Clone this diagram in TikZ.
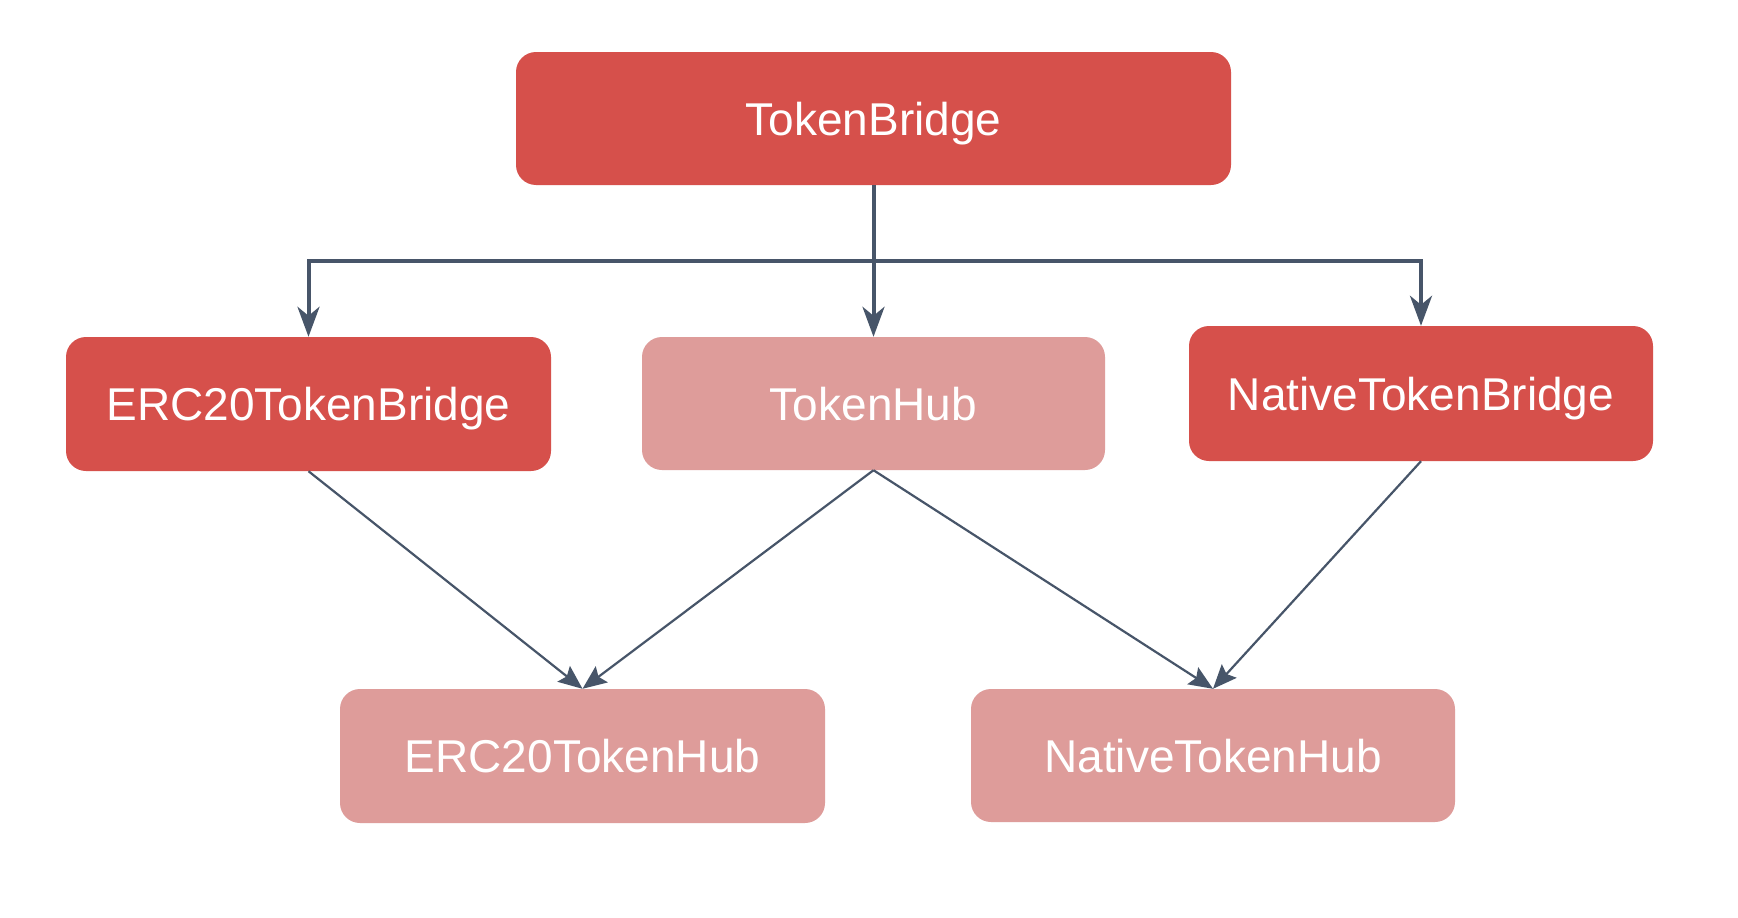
\documentclass[tikz,border=0pt]{standalone}
\usepackage{fontspec}
\setmainfont{Liberation Sans}
\usetikzlibrary{arrows.meta}
\definecolor{bridgered}{HTML}{D6504B}
\definecolor{hubpink}{HTML}{DE9C9A}
\definecolor{linkgray}{HTML}{475569}
\tikzset{
  box/.style={draw=none, rounded corners=20pt, text=white, font=\fontsize{46}{52}\selectfont, inner sep=0pt, text height=33pt, text depth=0pt},
  bridgebox/.style={box, fill=bridgered},
  hubbox/.style={box, fill=hubpink},
  thicklink/.style={draw=linkgray, line width=4pt, -{Stealth[length=30pt, width=22pt, inset=9pt]}},
  thinlink/.style={draw=linkgray, line width=2.2pt, -{Stealth[length=24pt, width=20pt, inset=4pt]}}
}
\begin{document}
\begin{tikzpicture}[x=1pt,y=-1pt]
\useasboundingbox (0,0) rectangle (1738,918);
\fill[white] (0,0) rectangle (1738,918);
\node[bridgebox, minimum width=715pt, minimum height=133pt] (tb) at (873.5,118.5) {TokenBridge};
\node[bridgebox, minimum width=485pt, minimum height=134pt] (etb) at (308.5,404) {ERC20TokenBridge};
\node[hubbox, minimum width=463pt, minimum height=133pt] (th) at (873.5,403.5) {TokenHub};
\node[bridgebox, minimum width=464pt, minimum height=135pt] (ntb) at (1421,393.5) {NativeTokenBridge};
\node[hubbox, minimum width=485pt, minimum height=134pt] (eth) at (582.5,756) {ERC20TokenHub};
\node[hubbox, minimum width=484pt, minimum height=133pt] (nth) at (1213,755.5) {NativeTokenHub};
\coordinate (bar) at (873.5,261);
\draw[thicklink] (tb.south) -- (th.north);
\draw[thicklink] (tb.south) -- (bar) -| (etb.north);
\draw[thicklink] (tb.south) -- (bar) -| (ntb.north);
\draw[thinlink] (etb.south) -- (eth.north);
\draw[thinlink] (th.south) -- (eth.north);
\draw[thinlink] (th.south) -- (nth.north);
\draw[thinlink] (ntb.south) -- (nth.north);
\end{tikzpicture}
\end{document}
